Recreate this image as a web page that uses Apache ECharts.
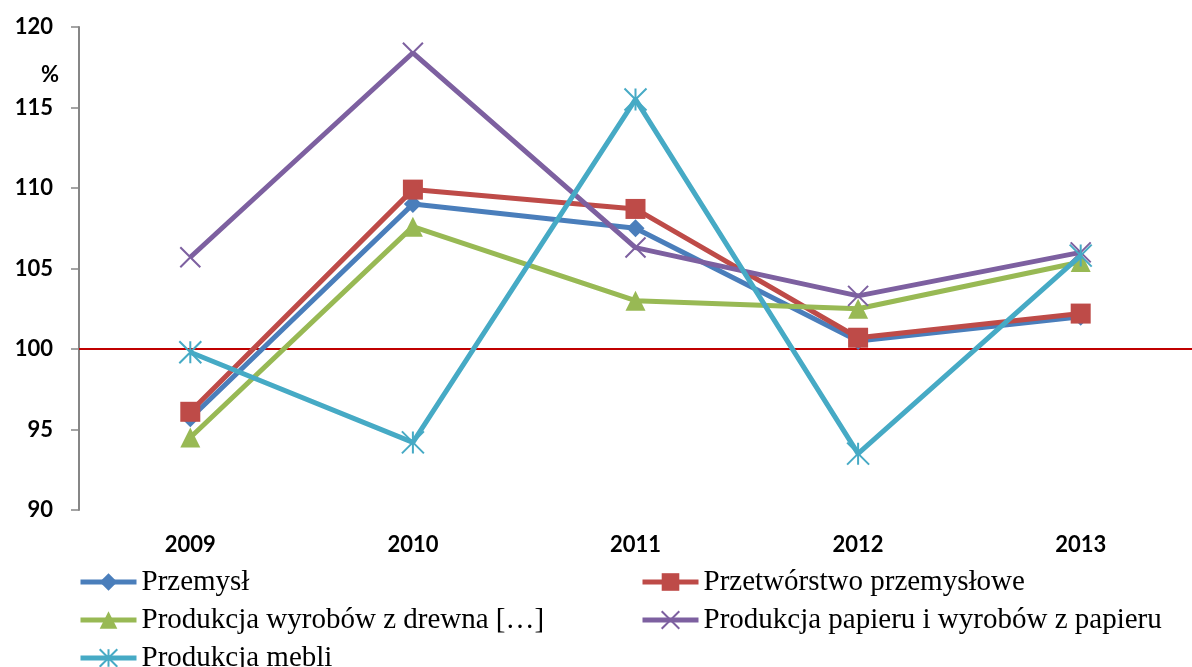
<!DOCTYPE html>
<html><head><meta charset="utf-8">
<script src="https://cdn.jsdelivr.net/npm/echarts@6/dist/echarts.min.js"></script>
<style>html,body{margin:0;padding:0;background:#fff}#c{width:1192px;height:667px}</style>
</head><body><div id="c"></div>
<script>
const categories = ['2009','2010','2011','2012','2013'];
const yTicks = [90, 95, 100, 105, 110, 115, 120];
const przemysl = [95.7, 109.0, 107.5, 100.5, 102.0];
const przetworstwo = [96.1, 109.9, 108.7, 100.7, 102.2];
const drewno = [94.5, 107.6, 103.0, 102.5, 105.4];
const papier = [105.7, 118.4, 106.3, 103.3, 106.0];
const meble = [99.8, 94.2, 115.5, 93.5, 105.8];
const names = ['Przemysł','Przetwórstwo przemysłowe','Produkcja wyrobów z drewna […]','Produkcja papieru i wyrobów z papieru','Produkcja mebli'];
const colors = ['#4A7EBB','#BE4B48','#98B954','#7D60A0','#46AAC5'];
const seriesData = [przemysl, przetworstwo, drewno, papier, meble];
const symbols = ['diamond','rect','triangle','path://M0,0L10,10M10,0L0,10','path://M5,0L5,10M0,0L10,10M10,0L0,10'];
const symbolSizes = [18, 20, 20, 20, 22];

const chart = echarts.init(document.getElementById('c'));
const series = seriesData.map((d, i) => ({
  name: names[i], type: 'line', data: d,
  symbol: symbols[i], symbolSize: symbolSizes[i], symbolKeepAspect: true,
  lineStyle: { width: 5, color: colors[i] },
  itemStyle: i >= 3 ? { color: 'rgba(0,0,0,0)', borderColor: colors[i], borderWidth: 2 } : { color: colors[i], borderWidth: 0 },
  z: 2 + i,
  animation: false,
  markLine: i === 0 ? { silent: true, symbol: 'none', label: { show: false },
    lineStyle: { color: '#C00000', width: 2, type: 'solid' }, data: [{ yAxis: 100 }], z: 1 } : undefined
}));
const legendText = { fontFamily: '"Liberation Serif", "Times New Roman", serif', fontSize: 29, color: '#000', lineHeight: 30 };
const legendCommon = { orient: 'vertical', top: 567, height: 200, itemWidth: 56, itemHeight: 22, itemGap: 8,
  textStyle: legendText, padding: 0, lineStyle: { width: 5 } };
chart.setOption({
  backgroundColor: '#fff',
  animation: false,
  grid: { left: 79, right: 0, top: 27, bottom: 157 },
  xAxis: { type: 'category', data: categories, boundaryGap: true,
    axisLine: { show: false }, axisTick: { show: false },
    axisLabel: { margin: 24, fontFamily: 'Lato, "Open Sans", sans-serif', fontWeight: 'bold', fontSize: 22, color: '#000' } },
  yAxis: { type: 'value', min: 90, max: 120, interval: 5,
    axisLine: { show: true, lineStyle: { color: '#868686', width: 2 } },
    axisTick: { show: true, inside: false, length: 8, lineStyle: { color: '#868686', width: 1.5 } },
    splitLine: { show: false },
    axisLabel: { margin: 26, fontFamily: 'Lato, "Open Sans", sans-serif', fontWeight: 'bold', fontSize: 22, color: '#000',
      formatter: v => yTicks.includes(v) ? String(v) : '' } },
  graphic: [{ type: 'text', left: 41, top: 64, style: { text: '%', font: 'bold 22px Lato, "Open Sans", sans-serif', fill: '#000' } }],
  legend: [
    Object.assign({ data: [names[0], names[2], names[4]], left: 78 }, legendCommon),
    Object.assign({ data: [names[1], names[3]], left: 640 }, legendCommon)
  ],
  series: series
});
</script></body></html>
